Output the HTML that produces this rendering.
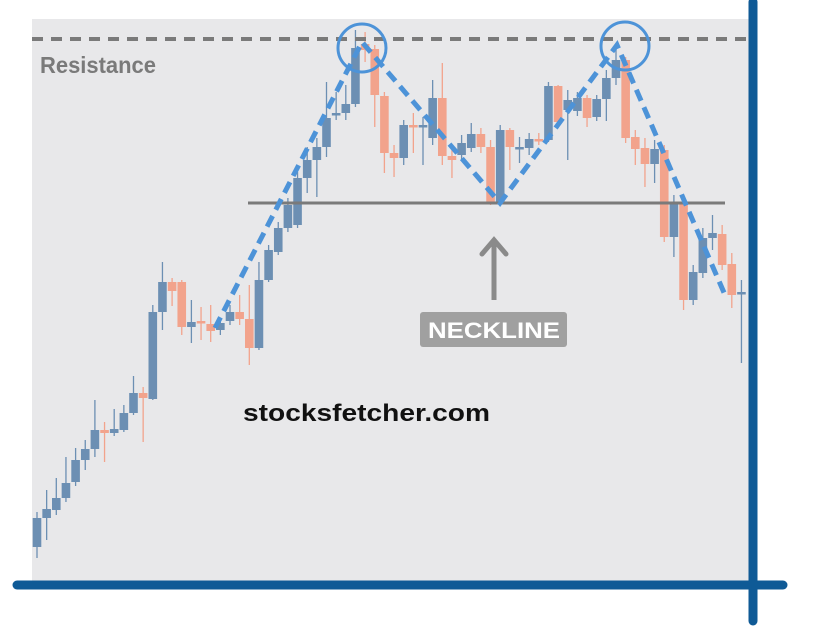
<!DOCTYPE html>
<html><head><meta charset="utf-8"><style>
html,body{margin:0;padding:0;background:#fff;}
svg{display:block;font-family:"Liberation Sans",sans-serif;}
</style></head><body>
<svg id="chart" width="823" height="627" viewBox="0 0 823 627">
<rect x="32" y="19" width="720" height="566" fill="#e8e8ea"/>
<g id="candles"></g>
<line x1="32" y1="39" x2="750" y2="39" stroke="#7a7a7a" stroke-width="4" stroke-dasharray="11 8"/>
<text x="40" y="73" font-size="23" font-weight="bold" fill="#7a7a7a" textLength="116" lengthAdjust="spacingAndGlyphs">Resistance</text>
<line x1="248" y1="203" x2="725" y2="203" stroke="#7a7a7a" stroke-width="3"/>
<g>
<line x1="494" y1="300" x2="494" y2="240" stroke="#8a8a8a" stroke-width="5"/>
<polyline points="482,254 494,240 506,254" fill="none" stroke="#8a8a8a" stroke-width="5" stroke-linecap="round"/>
</g>
<rect x="420" y="312" width="147" height="35" rx="3" fill="#a0a0a0"/>
<text x="428" y="338" font-size="22" font-weight="bold" fill="#fff" textLength="132" lengthAdjust="spacingAndGlyphs">NECKLINE</text>
<polyline points="215,328 362,42 500,203 617,45 725,295" fill="none" stroke="#4d93d8" stroke-width="5" stroke-dasharray="12 7"/>
<circle cx="362" cy="48" r="24" fill="none" stroke="#4d93d8" stroke-width="3"/>
<circle cx="625" cy="46" r="24" fill="none" stroke="#4d93d8" stroke-width="3"/>
<text x="243" y="421" font-size="24" font-weight="bold" fill="#111" textLength="247" lengthAdjust="spacingAndGlyphs">stocksfetcher.com</text>
<line x1="753" y1="2" x2="753" y2="621" stroke="#0f5a96" stroke-width="9" stroke-linecap="round"/>
<line x1="17" y1="585" x2="783" y2="585" stroke="#0f5a96" stroke-width="9" stroke-linecap="round"/>
</svg>
<script>
const opens=[53,82,90,102,118,140,151,170,167,170,187,207,201,288,318,318,273,279,276,270,279,288,281,252,320,348,372,375,422,440,453,485,487,496,556,551,504,447,442,475,473,462,502,444,445,452,466,453,397,470,452,452,461,460,514,490,489,502,483,501,522,540,463,452,436,450,363,397,300,327,362,366,336,306];
const closes=[82,91,102,117,140,151,170,167,171,187,207,202,288,318,309,273,278,277,269,277,288,281,252,320,350,372,395,422,440,453,482,487,496,552,550,505,447,442,475,473,475,502,444,440,457,466,453,397,470,453,453,461,459,514,478,500,502,482,501,522,540,462,451,436,451,363,398,300,328,362,367,335,305,308];
const highs=[88,110,122,143,152,160,200,178,191,195,224,213,295,338,322,320,300,293,295,282,295,305,315,338,355,378,402,428,453,462,518,508,515,570,568,555,508,455,480,487,483,520,537,450,465,477,472,460,475,472,463,467,467,518,515,510,508,505,505,530,555,543,470,462,460,455,405,400,335,372,385,375,347,320];
const lows=[42,60,85,98,114,130,143,138,164,168,185,158,200,270,294,265,257,260,258,265,275,275,235,250,318,345,368,372,407,403,443,480,480,493,538,473,427,423,435,447,435,455,435,422,440,448,447,395,395,430,437,445,455,458,472,440,484,473,479,479,515,457,435,413,417,358,343,290,295,322,350,330,292,237];
const xScale=i=>37+9.65*i;
const yScale=p=>600-p;
const g=document.getElementById('candles');
const NS='http://www.w3.org/2000/svg';
for(let i=0;i<opens.length;i++){
  const up=closes[i]>=opens[i];
  const col=up?'#6c8fb3':'#f2a38c';
  const x=xScale(i);
  const w=document.createElementNS(NS,'line');
  
  
  w.setAttribute('x1',x);w.setAttribute('x2',x);
  w.setAttribute('y1',yScale(highs[i]));w.setAttribute('y2',yScale(lows[i]));
  w.setAttribute('stroke',col);w.setAttribute('stroke-width','1.3');
  g.appendChild(w);
  const top=yScale(Math.max(opens[i],closes[i])),bot=yScale(Math.min(opens[i],closes[i]));
  const r=document.createElementNS(NS,'rect');
  
  
  r.setAttribute('x',x-4.3);r.setAttribute('width',8.6);
  r.setAttribute('y',top);r.setAttribute('height',Math.max(2.5,bot-top));
  r.setAttribute('fill',col);
  g.appendChild(r);
}
</script>
</body></html>
